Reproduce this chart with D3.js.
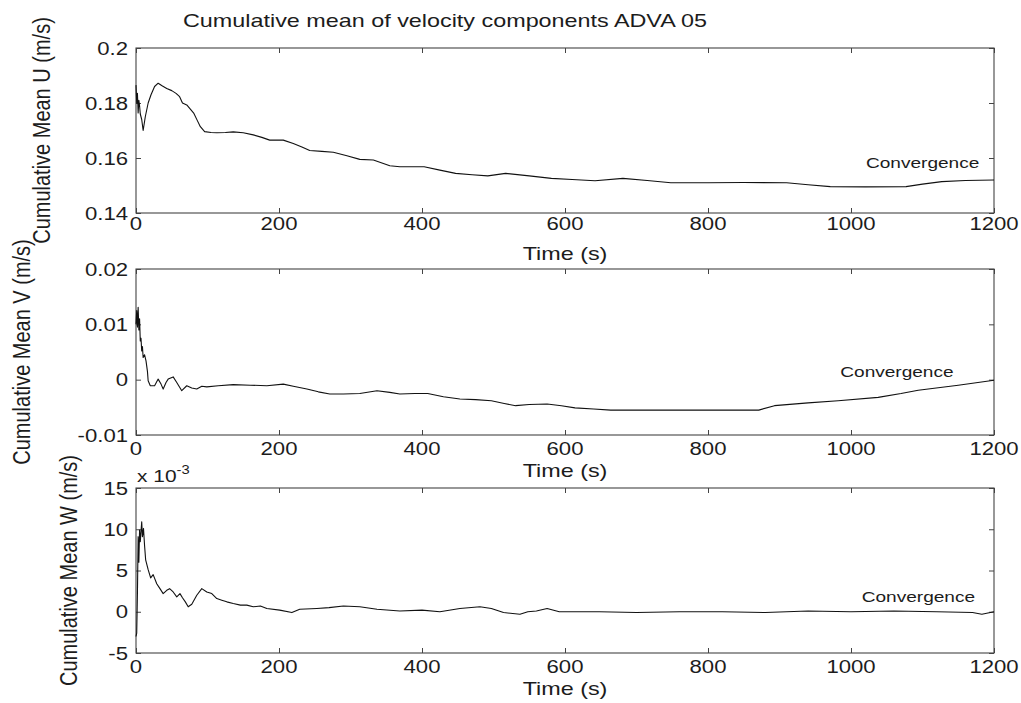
<!DOCTYPE html>
<html><head><meta charset="utf-8">
<script src="https://cdn.jsdelivr.net/npm/d3@7/dist/d3.min.js"></script>
<style>
body{margin:0;background:#fff}
svg{display:block}
text{font-family:"Liberation Sans",Arial,Helvetica,sans-serif;fill:#1c1c1c}
</style>
</head><body>
<svg id="c" width="1021" height="703"></svg>
<script>
// ---------------- data ----------------
const chartTitle = "Cumulative mean of velocity components ADVA 05";
const timeTicks = [0, 200, 400, 600, 800, 1000, 1200];
const timeTickLabels = ["0", "200", "400", "600", "800", "1000", "1200"];

const uTicks = [0.14, 0.16, 0.18, 0.2];
const uTickLabels = ["0.14", "0.16", "0.18", "0.2"];
const vTicks = [-0.01, 0, 0.01, 0.02];
const vTickLabels = ["-0.01", "0", "0.01", "0.02"];
const wTicks = [-5, 0, 5, 10, 15];
const wTickLabels = ["-5", "0", "5", "10", "15"];

const tU = [0,1,2,3,4,5,6,8,10,13,17,21,26,31,37,43,50,56,61,65,71,76,81,86,90,96,105,113,125,136,150,164,176,187,206,220,232,243,260,276,295,313,332,355,369,403,425,447,470,492,517,550,581,610,642,681,715,748,800,850,910,940,971,1020,1077,1100,1127,1160,1200];
const meanU = [0.1865,0.1800,0.1835,0.1764,0.1810,0.1790,0.1760,0.1740,0.1700,0.1750,0.1800,0.1830,0.1860,0.1872,0.1862,0.1853,0.1845,0.1835,0.1823,0.1800,0.1793,0.1778,0.1762,0.1735,0.1714,0.1696,0.1693,0.1692,0.1693,0.1695,0.1692,0.1684,0.1675,0.1665,0.1665,0.1653,0.1640,0.1627,0.1624,0.1621,0.1608,0.1595,0.1593,0.1572,0.1568,0.1568,0.1556,0.1544,0.1539,0.1535,0.1544,0.1535,0.1526,0.1522,0.1517,0.1526,0.1518,0.1510,0.1510,0.1511,0.1510,0.1503,0.1496,0.1495,0.1496,0.1505,0.1514,0.1518,0.1520];

const tV = [0,1,2,3,4,5,6,7,8,9,10,12,14,16,17,20,26,31,35,38,42,45,52,57,64,71,78,85,92,99,115,136,160,183,206,220,239,255,271,290,313,337,355,369,390,408,430,453,475,497,515,531,550,575,595,614,640,664,703,780,871,893,940,982,1038,1070,1094,1150,1200];
const meanV = [0.0100,0.0125,0.0095,0.0131,0.0090,0.0110,0.0070,0.0075,0.0052,0.0060,0.0040,0.0045,0.0034,0.0015,-0.0002,-0.0011,-0.0011,0.0001,-0.0008,-0.0017,-0.0005,0.0001,0.0005,-0.0005,-0.0020,-0.0011,-0.0015,-0.0017,-0.0012,-0.0013,-0.0011,-0.0009,-0.0010,-0.0011,-0.0008,-0.0012,-0.0017,-0.0022,-0.0026,-0.0026,-0.0025,-0.0020,-0.0023,-0.0026,-0.0025,-0.0025,-0.0031,-0.0035,-0.0036,-0.0038,-0.0043,-0.0047,-0.0045,-0.0044,-0.0047,-0.0051,-0.0053,-0.0055,-0.0055,-0.0055,-0.0055,-0.0047,-0.0042,-0.0038,-0.0032,-0.0025,-0.0019,-0.0010,-0.0001];

// W values in units of 10^-3 m/s
const tW = [0,1,2,3,4,5,6,8,9,10.5,12,13.5,17,20.5,24,29,33.5,38,43,47,52,57,61.5,65,69,73,78,85,92,99,106,113,120,127,136,146,155,164,174,183,201,218,229,253,270,290,313,337,369,400,425,453,481,497,514,537,548,560,575,592,648,700,760,820,880,940,1000,1060,1120,1170,1183,1200];
const meanW = [-3.0,-2.6,2.2,9.1,6.0,9.9,8.5,10.9,9.1,10.1,8.0,6.3,5.1,4.1,4.5,3.4,2.8,2.2,2.6,2.8,2.4,1.8,2.2,1.7,1.2,0.6,0.9,2.0,2.8,2.4,2.2,1.6,1.4,1.2,1.0,0.8,0.8,0.6,0.7,0.4,0.2,-0.1,0.3,0.4,0.5,0.7,0.6,0.3,0.1,0.2,0.0,0.4,0.6,0.4,-0.1,-0.3,0.0,0.1,0.4,0.0,0.0,-0.1,0.0,0.0,-0.1,0.1,0.0,0.1,0.0,-0.1,-0.3,0.0];

const yLabels = ["Cumulative Mean U (m/s)", "Cumulative Mean V (m/s)", "Cumulative Mean W (m/s)"];
const xLabel = "Time (s)";
const noteText = "Convergence";
const noteTime = [1021, 985, 1015];
const noteValue = [0.1564, 0.00054, 1.18];

// ---------------- layout ----------------
const SX = 1.23;           // horizontal stretch of the reference picture
const X0 = 136, X1 = 994;
const panels = [
  {top:48,  bottom:213, domain:[0.14,0.2],  ticks:uTicks, labels:uTickLabels, t:tU, v:meanU, ylabX:50, xtickY:230, xlabY:260},
  {top:269, bottom:435, domain:[-0.01,0.02], ticks:vTicks, labels:vTickLabels, t:tV, v:meanV, ylabX:30, xtickY:455, xlabY:477},
  {top:488, bottom:653, domain:[-5,15],     ticks:wTicks, labels:wTickLabels, t:tW, v:meanW, ylabX:77, xtickY:673, xlabY:695}
];

const svg = d3.select("#c");
const x = d3.scaleLinear().domain([0,1200]).range([X0, X1]);

function txt(g, px, py, s, size, anchor, rot){
  return g.append("text")
    .attr("transform", `translate(${px},${py}) scale(${SX},1)` + (rot ? " rotate(-90)" : ""))
    .attr("text-anchor", anchor)
    .style("font-size", size + "px")
    .text(s);
}

panels.forEach((p, i) => {
  const y = d3.scaleLinear().domain(p.domain).range([p.bottom, p.top]);
  const g = svg.append("g");

  // ticks (inside, all four sides)
  const tickStyle = sel => { sel.select(".domain").remove(); sel.selectAll("text").remove();
    sel.selectAll("line").attr("stroke", "#444").attr("stroke-width", 1); };
  g.append("g").attr("transform", `translate(0,${p.bottom})`)
    .call(d3.axisBottom(x).tickValues(timeTicks).tickSize(-5)).call(tickStyle);
  g.append("g").attr("transform", `translate(0,${p.top})`)
    .call(d3.axisTop(x).tickValues(timeTicks).tickSize(-5)).call(tickStyle);
  g.append("g").attr("transform", `translate(${X0},0)`)
    .call(d3.axisLeft(y).tickValues(p.ticks).tickSize(-5)).call(tickStyle);
  g.append("g").attr("transform", `translate(${X1},0)`)
    .call(d3.axisRight(y).tickValues(p.ticks).tickSize(-5)).call(tickStyle);

  // box
  g.append("rect").attr("x", X0).attr("y", p.top)
    .attr("width", X1 - X0).attr("height", p.bottom - p.top)
    .attr("fill", "none").attr("stroke", "#444").attr("stroke-width", 1.1);

  // curve
  const pts = p.t.map((t, k) => [t, p.v[k]]);
  g.append("path").datum(pts)
    .attr("fill", "none").attr("stroke", "#111").attr("stroke-width", 1.1)
    .attr("stroke-linejoin", "round")
    .attr("d", d3.line().x(d => x(d[0])).y(d => y(d[1])));

  // tick labels
  timeTicks.forEach((t, k) => txt(g, x(t), p.xtickY, timeTickLabels[k], 18, "middle"));
  p.ticks.forEach((v, k) => txt(g, X0 - 8, y(v) + 6.5, p.labels[k], 18, "end"));

  // axis labels
  txt(g, x(600), p.xlabY, xLabel, 19, "middle");
  txt(g, p.ylabX, (p.top + p.bottom) / 2, yLabels[i], 20, "middle", true);

  // annotation
  txt(g, x(noteTime[i]), y(noteValue[i]), noteText, 15.5, "start");

  if (i === 2) {
    const e = g.append("text")
      .attr("transform", `translate(137,482) scale(${SX},1)`)
      .style("font-size", "17px");
    e.append("tspan").text("x 10");
    e.append("tspan").attr("dy", -8).style("font-size", "12px").text("-3");
  }
});

txt(svg, 183, 27, chartTitle, 19, "start");
</script>
</body></html>
